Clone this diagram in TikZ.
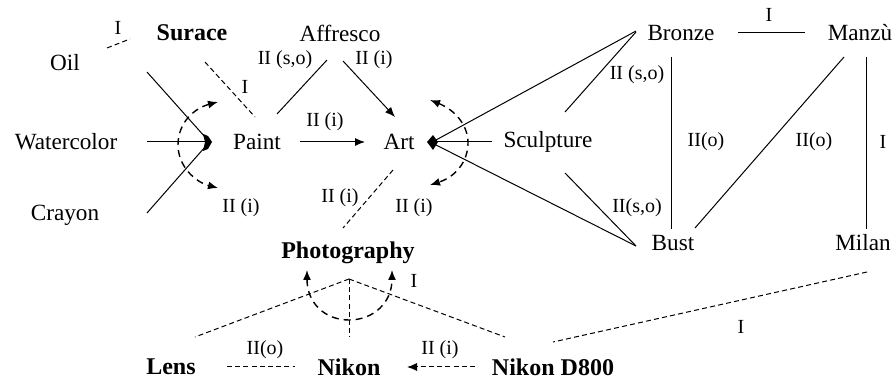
\documentclass[tikz,border=0pt]{standalone}
\usepackage{fontspec}
\setmainfont{Liberation Serif}
\usetikzlibrary{arrows.meta}
\begin{document}
\begin{tikzpicture}[x=0.5pt,y=-0.5pt,
  nd/.style={font=\fontsize{11.6}{13}\selectfont, inner sep=0pt},
  bnd/.style={font=\fontsize{12}{13}\selectfont\bfseries, inner sep=0pt},
  lbl/.style={font=\fontsize{10}{12}\selectfont, inner sep=0pt},
  ln/.style={line width=0.5pt},
  dln/.style={line width=0.5pt, dash pattern=on 2.5pt off 1.6pt},
  darc/.style={line width=0.7pt, dash pattern=on 3.5pt off 2.5pt},
  tipe/.style={-{Latex[length=5pt,width=4pt]}},
  tipb/.style={{Latex[length=5pt,width=4pt]}-{Latex[length=5pt,width=4pt]}}]
\useasboundingbox (0,0) rectangle (894,378);
% nodes
\node[nd]  (oil)      at (65,63)   {Oil};
\node[bnd] (surace)   at (192,33)  {Surace};
\node[nd]  (water)    at (66,142)  {Watercolor};
\node[nd]  (crayon)   at (65,215)  {Crayon};
\node[nd]  (paint)    at (257,142) {Paint};
\node[nd]  (affresco) at (340,33)  {Affresco};
\node[nd]  (art)      at (399,142) {Art};
\node[nd]  (sculpt)   at (548,142) {Sculpture};
\node[nd]  (bronze)   at (681,33)  {Bronze};
\node[nd]  (manzu)    at (860,33)  {Manzù};
\node[nd]  (bust)     at (673,243) {Bust};
\node[nd]  (milan)    at (863,243) {Milan};
\node[bnd] (photo)    at (348,253) {Photography};
\node[bnd] (lens)     at (171,367) {Lens};
\node[bnd] (nikon)    at (349,367) {Nikon};
\node[bnd] (d800)     at (553,367) {Nikon D800};
% endpoint coordinates
\coordinate (oilA) at (107,48);  \coordinate (surA) at (130,39);
\coordinate (surB) at (205,62);  \coordinate (paiB) at (255,117);
\coordinate (oilC) at (147,72);  \coordinate (pjT) at (205,137);
\coordinate (watC) at (147,142); \coordinate (pjM) at (205,142);
\coordinate (crayC) at (147,213); \coordinate (pjB) at (205,147);
\coordinate (paiE) at (300,142); \coordinate (artW) at (365,142);
\coordinate (paiN) at (277,114); \coordinate (affW) at (327,60);
\coordinate (affE) at (343,61);  \coordinate (artN) at (395,117);
\coordinate (artS) at (393,170); \coordinate (phoN) at (343,228);
\coordinate (sclW) at (492,142); \coordinate (ajM) at (436,142);
\coordinate (bronW) at (636,31); \coordinate (ajT) at (436,140);
\coordinate (bustW) at (636,246); \coordinate (ajB) at (436,145);
\coordinate (sclNE) at (565,112); \coordinate (bronSW) at (636,32);
\coordinate (sclSE) at (565,173); \coordinate (bustNW) at (636,246);
\coordinate (bronS) at (671,57); \coordinate (bustN) at (671,229);
\coordinate (bronE) at (738,33); \coordinate (manW) at (805,33);
\coordinate (manSW) at (844,57); \coordinate (bustNE) at (695,228);
\coordinate (manS) at (866,57);  \coordinate (milN) at (866,229);
\coordinate (milS) at (867,272); \coordinate (d8NE) at (553,342);
\coordinate (ph) at (349,279);
\coordinate (lensNE) at (195,337); \coordinate (d8NW) at (505,337);
\coordinate (nikN) at (349,337);
\coordinate (lensE) at (227,367); \coordinate (nikW) at (295,367);
\coordinate (d8W) at (475,367); \coordinate (nikE) at (407,367);
% connectors left
\draw[dln] (oilA) -- (surA);
\draw[dln] (surB) -- (paiB);
\draw[ln] (oilC) -- (pjT);
\draw[ln] (watC) -- (pjM);
\draw[ln] (crayC) -- (pjB);
\fill (203,134) -- (208,136) -- (212,142) -- (208,149) -- (203,151) -- (205,142) -- cycle;
\draw[darc,tipb] (218,102) .. controls (195,108) and (178,122) .. (178,145) .. controls (178,166) and (195,182) .. (218,188);
\draw[ln,tipe] (paiE) -- (artW);
\draw[ln] (paiN) -- (affW);
\draw[ln,tipe] (affE) -- (artN);
\draw[dln] (artS) -- (phoN);
% art cluster
\draw[ln] (sclW) -- (ajM);
\draw[ln] (bronW) -- (ajT);
\draw[ln] (bustW) -- (ajB);
\fill (427,142) -- (433,135) -- (438,142) -- (433,150) -- cycle;
\draw[darc,tipb] (430,100) .. controls (455,110) and (468,125) .. (468,143) .. controls (468,162) and (455,177) .. (430,185);
\draw[ln] (sclNE) -- (bronSW);
\draw[ln] (sclSE) -- (bustNW);
\draw[ln] (bronS) -- (bustN);
\draw[ln] (bronE) -- (manW);
\draw[ln] (manSW) -- (bustNE);
\draw[ln] (manS) -- (milN);
\draw[dln] (milS) -- (d8NE);
% photography
\draw[dln] (ph) -- (lensNE);
\draw[dln] (ph) -- (d8NW);
\draw[dln] (ph) -- (nikN);
\draw[darc,tipb] (307,270) .. controls (307,303) and (325,320) .. (349,320) .. controls (373,320) and (392,303) .. (392,270);
\draw[dln] (lensE) -- (nikW);
\draw[dln,tipe] (d8W) -- (nikE);
% labels
\node[lbl] at (118,28)  {I};
\node[lbl] at (245,87)  {I};
\node[lbl] at (241,208) {II (i)};
\node[lbl] at (325,122) {II (i)};
\node[lbl] at (285,60)  {II (s,o)};
\node[lbl] at (374,60)  {II (i)};
\node[lbl] at (340,198) {II (i)};
\node[lbl] at (414,208) {II (i)};
\node[lbl] at (637,75)  {II (s,o)};
\node[lbl] at (637,208) {II(s,o)};
\node[lbl] at (706,142) {II(o)};
\node[lbl] at (769,15)  {I};
\node[lbl] at (814,142) {II(o)};
\node[lbl] at (883,142) {I};
\node[lbl] at (741,327) {I};
\node[lbl] at (414,281) {I};
\node[lbl] at (265,350) {II(o)};
\node[lbl] at (440,350) {II (i)};
\end{tikzpicture}
\end{document}
